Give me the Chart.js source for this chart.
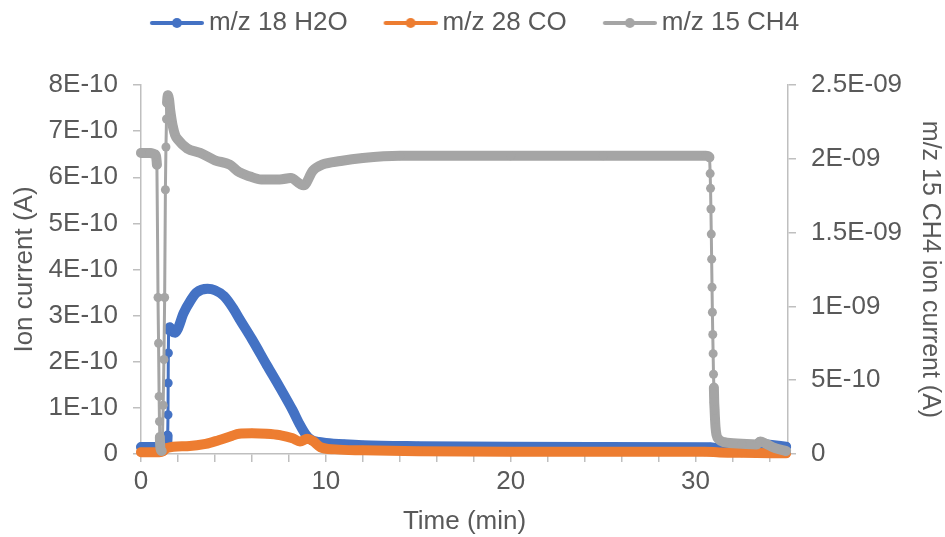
<!DOCTYPE html>
<html>
<head>
<meta charset="utf-8">
<script src="https://cdn.jsdelivr.net/npm/chart.js@4.4.1/dist/chart.umd.min.js"></script>
<style>
  html, body { margin: 0; padding: 0; background: #fff; }
  .chart-container { width: 945px; height: 537px; position: relative; }
</style>
</head>
<body>
<div class="chart-container">
  <canvas id="ionChart"></canvas>
</div>
<script>
  // time in min, ion current in A
  const h2oTime = [0, 1.0, 1.38, 1.44, 1.46, 1.47, 1.48, 1.5, 1.56, 1.7, 1.85, 2.0, 2.3, 2.7, 3.0, 3.6, 4.0, 4.5, 5.0, 5.34, 6.0, 6.8, 7.5, 8.2, 8.6, 8.9, 9.2, 9.6, 10.0, 11, 12, 15, 20, 25, 30.8, 31.3, 33.2, 33.5, 34.0, 34.9];
  const h2oCurrent = [0.15e-10, 0.15e-10, 0.16e-10, 0.4e-10, 0.85e-10, 1.54e-10, 2.19e-10, 2.69e-10, 2.75e-10, 2.65e-10, 2.63e-10, 2.72e-10, 3.05e-10, 3.34e-10, 3.5e-10, 3.58e-10, 3.55e-10, 3.42e-10, 3.15e-10, 2.92e-10, 2.49e-10, 1.93e-10, 1.45e-10, 0.95e-10, 0.63e-10, 0.43e-10, 0.31e-10, 0.26e-10, 0.24e-10, 0.21e-10, 0.19e-10, 0.17e-10, 0.155e-10, 0.15e-10, 0.145e-10, 0.12e-10, 0.12e-10, 0.22e-10, 0.2e-10, 0.16e-10];

  const coTime = [0, 1.0, 1.2, 1.4, 2.5, 3.5, 4.2, 4.9, 5.3, 6.0, 6.8, 7.5, 8.2, 8.6, 9.0, 9.3, 9.7, 10.5, 12, 15, 20, 30.5, 31.3, 32.5, 34.9];
  const coCurrent = [0.04e-10, 0.04e-10, 0.06e-10, 0.13e-10, 0.17e-10, 0.22e-10, 0.3e-10, 0.39e-10, 0.44e-10, 0.45e-10, 0.44e-10, 0.41e-10, 0.34e-10, 0.27e-10, 0.33e-10, 0.28e-10, 0.15e-10, 0.1e-10, 0.08e-10, 0.06e-10, 0.05e-10, 0.05e-10, 0.035e-10, 0.025e-10, 0.015e-10];

  const ch4Time = [0, 0.5, 0.75, 0.86, 0.92, 0.95, 0.98, 1.0, 1.02, 1.05, 1.12, 1.2, 1.24, 1.28, 1.32, 1.35, 1.38, 1.41, 1.45, 1.52, 1.58, 1.65, 1.72, 1.85, 2.0, 2.5, 3.2, 4.0, 4.8, 5.3, 5.9, 6.5, 7.5, 8.1, 8.6, 8.8, 9.3, 9.8, 10.8, 12, 14, 20, 25, 30.55, 30.75, 30.79, 30.81, 30.83, 30.85, 30.87, 30.89, 30.91, 30.93, 30.95, 30.97, 30.99, 31.0, 31.01, 31.03, 31.05, 31.08, 31.13, 31.25, 31.55, 32.5, 33.3, 33.5, 33.8, 34.3, 34.9];
  const ch4Current = [2.04e-9, 2.04e-9, 2.03e-9, 1.96e-9, 1.06e-9, 0.75e-9, 0.39e-9, 0.22e-9, 0.115e-9, 0.04e-9, 0.02e-9, 0.33e-9, 0.64e-9, 1.06e-9, 1.79e-9, 2.08e-9, 2.27e-9, 2.38e-9, 2.43e-9, 2.4e-9, 2.33e-9, 2.27e-9, 2.22e-9, 2.16e-9, 2.13e-9, 2.07e-9, 2.04e-9, 1.99e-9, 1.96e-9, 1.91e-9, 1.88e-9, 1.86e-9, 1.86e-9, 1.87e-9, 1.83e-9, 1.82e-9, 1.92e-9, 1.96e-9, 1.985e-9, 2.005e-9, 2.02e-9, 2.02e-9, 2.02e-9, 2.02e-9, 2.01e-9, 1.9e-9, 1.8e-9, 1.66e-9, 1.49e-9, 1.32e-9, 1.13e-9, 0.96e-9, 0.81e-9, 0.68e-9, 0.54e-9, 0.45e-9, 0.4e-9, 0.35e-9, 0.3e-9, 0.24e-9, 0.18e-9, 0.13e-9, 0.1e-9, 0.08e-9, 0.07e-9, 0.065e-9, 0.085e-9, 0.07e-9, 0.04e-9, 0.02e-9];

  const xLabelValues = [0, 10, 20, 30];
  const leftTickLabels = ["0", "1E-10", "2E-10", "3E-10", "4E-10", "5E-10", "6E-10", "7E-10", "8E-10"];
  const rightTickLabels = ["0", "5E-10", "1E-09", "1.5E-09", "2E-09", "2.5E-09"];

  const axisColor = "#BFBFBF";
  const textColor = "#595959";
  const colors = ["#4472C4", "#ED7D31", "#A5A5A5"];

  Chart.defaults.font.family = "'Liberation Sans', Arial, sans-serif";
  Chart.defaults.font.size = 26;
  Chart.defaults.color = textColor;

  // line + dot sample for the legend (line sits right of the icon centre)
  function legendIcon(color) {
    const c = document.createElement("canvas");
    c.width = 88;
    c.height = 14;
    const g = c.getContext("2d");
    g.strokeStyle = color;
    g.lineWidth = 4;
    g.lineCap = "round";
    g.beginPath();
    g.moveTo(36, 7);
    g.lineTo(86, 7);
    g.stroke();
    g.fillStyle = color;
    g.beginPath();
    g.arc(61, 7, 5, 0, Math.PI * 2);
    g.fill();
    return c;
  }
  const icons = colors.map(legendIcon);

  // dense markers look like a thick band; near-vertical jumps show the thin line
  function segWidth(ctx) {
    const dx = Math.abs(ctx.p1.x - ctx.p0.x);
    const dy = Math.abs(ctx.p1.y - ctx.p0.y);
    return dx < 3 && dy > 12 ? 3 : 10;
  }

  function series(label, times, values, color, axis, order) {
    return {
      label: label,
      data: times.map((t, i) => ({ x: t, y: values[i] })),
      yAxisID: axis,
      order: order,
      borderColor: color,
      backgroundColor: color,
      borderWidth: 10,
      borderCapStyle: "round",
      borderJoinStyle: "round",
      pointRadius: 4.5,
      pointBorderWidth: 0,
      pointBackgroundColor: color,
      cubicInterpolationMode: "monotone",
      clip: false,
      segment: { borderWidth: segWidth },
    };
  }

  const legendPlace = {
    id: "legendPlace",
    beforeInit(chart) {
      const fit = chart.legend.fit;
      chart.legend.fit = function () {
        fit.bind(chart.legend)();
        this.height = 85;
      };
    },
    afterLayout(chart) {
      chart.legend.left -= 11;
      chart.legend.right -= 11;
    },
  };

  const grid = { drawOnChartArea: false, drawTicks: true, tickLength: 8, color: axisColor, lineWidth: 1.5 };
  const border = { color: axisColor, width: 1.5 };

  const ctx = document.getElementById("ionChart").getContext("2d");
  const myChart = new Chart(ctx, {
    type: "line",
    data: {
      datasets: [
        series("m/z 18 H2O", h2oTime, h2oCurrent, colors[0], "y", 3),
        series("m/z 28 CO", coTime, coCurrent, colors[1], "y", 2),
        series("m/z 15 CH4", ch4Time, ch4Current, colors[2], "y1", 1),
      ],
    },
    options: {
      responsive: true,
      maintainAspectRatio: false,
      animation: false,
      events: [],
      layout: { padding: 0 },
      plugins: {
        tooltip: { enabled: false },
        legend: {
          position: "top",
          labels: {
            usePointStyle: true,
            pointStyleWidth: 72,
            padding: 10,
            color: textColor,
            generateLabels(chart) {
              return chart.data.datasets.map((ds, i) => ({
                text: ds.label,
                fontColor: textColor,
                pointStyle: icons[i],
                fillStyle: ds.borderColor,
                strokeStyle: ds.borderColor,
                lineWidth: 0,
                hidden: false,
                datasetIndex: i,
              }));
            },
          },
        },
      },
      scales: {
        x: {
          type: "linear",
          min: 0,
          max: 35,
          grid: grid,
          border: border,
          ticks: {
            stepSize: 2,
            autoSkip: false,
            includeBounds: false,
            maxRotation: 0,
            padding: 4,
            callback: (v) => (xLabelValues.includes(v) ? String(v) : ""),
          },
          title: { display: true, text: "Time (min)", padding: { top: 0, bottom: 0 } },
          afterFit: (s) => { s.height = 83; },
        },
        y: {
          position: "left",
          min: 0,
          max: 8e-10,
          grid: grid,
          border: border,
          ticks: { stepSize: 1e-10, padding: 15, callback: (v, i) => leftTickLabels[i] },
          title: { display: true, text: "Ion current (A)", padding: { top: 9, bottom: 0 } },
          afterFit: (s) => { s.width = 141; },
        },
        y1: {
          position: "right",
          min: 0,
          max: 2.5e-9,
          grid: grid,
          border: border,
          ticks: { stepSize: 5e-10, padding: 15, callback: (v, i) => rightTickLabels[i] },
          title: { display: true, text: "m/z 15 CH4 ion current (A)", font: { size: 25 }, padding: { top: 0, bottom: 0 } },
          afterFit: (s) => { s.width = 157; },
        },
      },
    },
    plugins: [legendPlace],
  });
</script>
</body>
</html>
